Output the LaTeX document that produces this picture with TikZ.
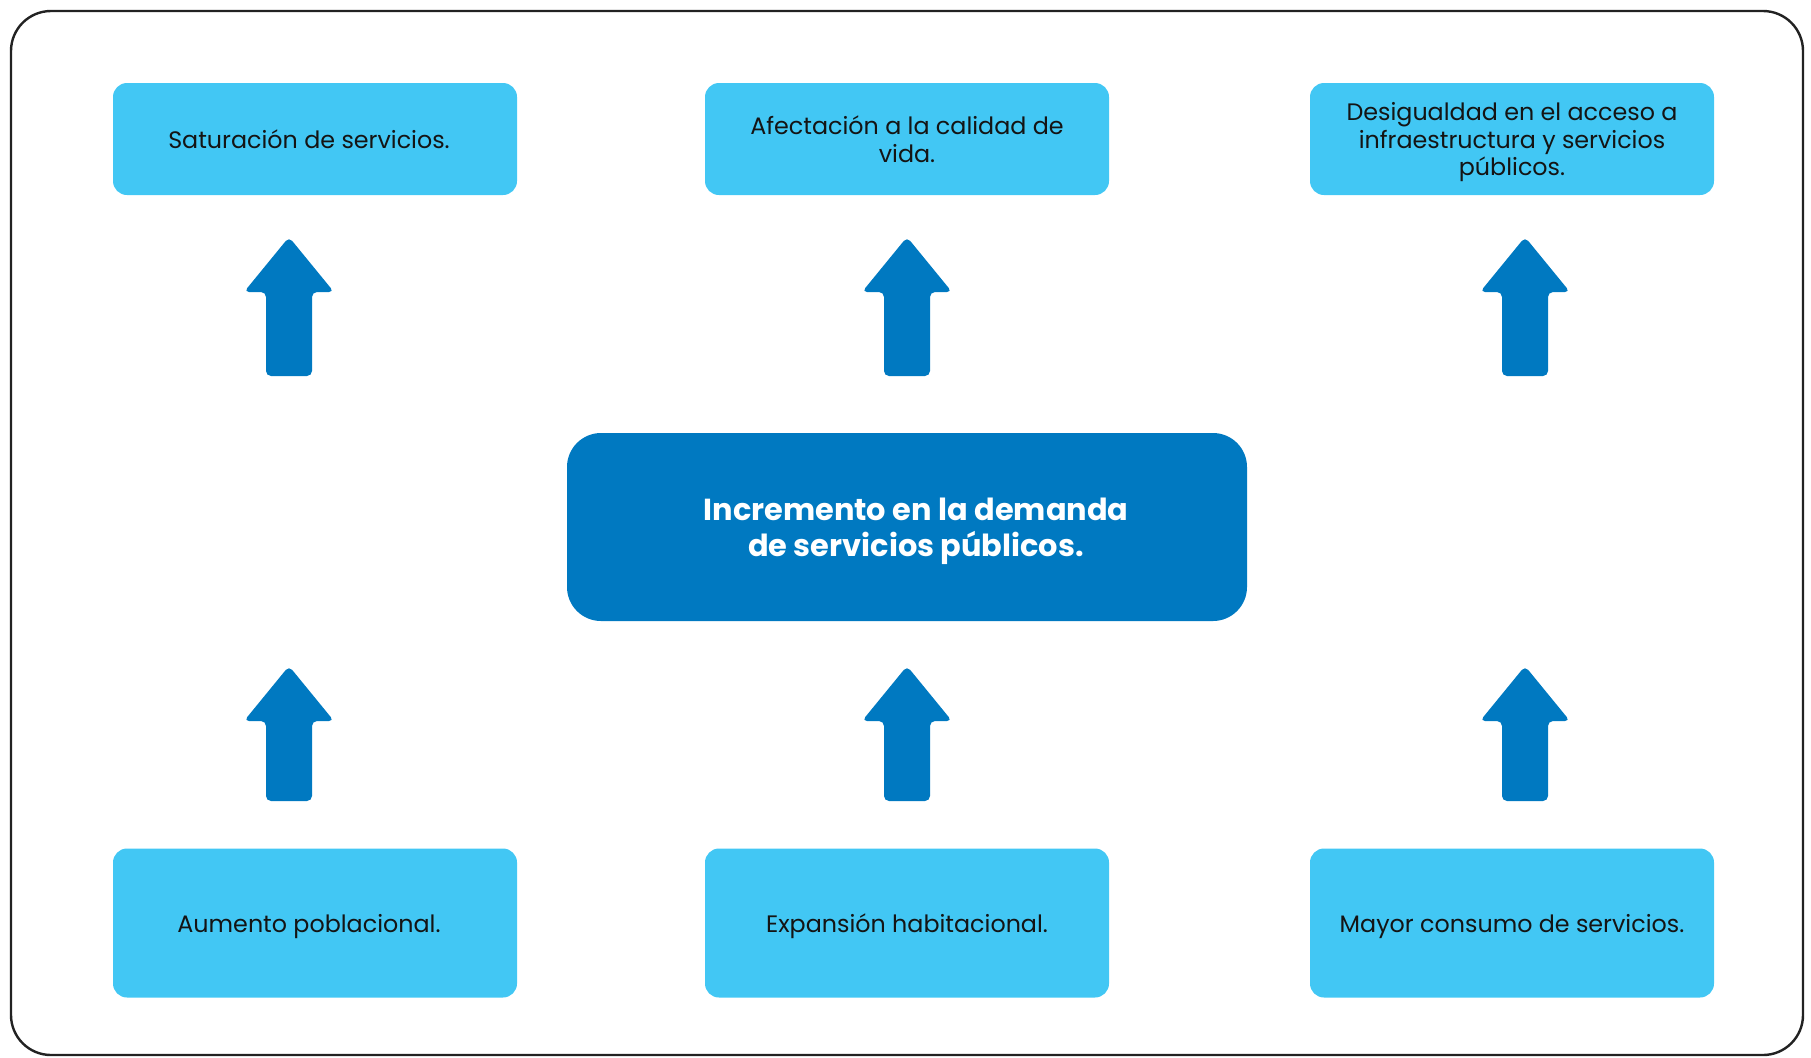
\documentclass[tikz,border=0pt]{standalone}
\usepackage{fontspec}
\setmainfont{Poppins}

\definecolor{skyblue}{HTML}{42C7F4}
\definecolor{deepblue}{HTML}{0079C1}
\definecolor{framegray}{HTML}{222222}

\begin{document}
\begin{tikzpicture}[x=0.5pt,y=-0.5pt,
  smallbox/.style={fill=skyblue, rounded corners=7pt, minimum width=202pt, align=center,
    text=black!92, text depth=0pt, font=\fontsize{11.9}{13.8}\selectfont},
  topbox/.style={smallbox, minimum height=56pt},
  lowbox/.style={smallbox, minimum height=74.5pt},
  mainbox/.style={fill=deepblue, rounded corners=17pt, minimum width=340pt, minimum height=94pt,
    align=center, text=white, text depth=-1.5pt, font=\fontsize{15.2}{18}\selectfont\bfseries}]

  \useasboundingbox (0,0) rectangle (1811,1057);
  \draw [line width=1.2pt, framegray, rounded corners=20pt] (11,11) rectangle (1803,1055);

  \node [topbox] (sat) at (315,139) {Saturación de servicios.\hspace*{6pt}};
  \node [topbox] (afe) at (907,139) {Afectación a la calidad de\\ vida.};
  \node [topbox] (des) at (1512,139) {Desigualdad en el acceso a\\ infraestructura y servicios\\ públicos.};

  \node [mainbox] (inc) at (907,527) {\hspace*{9pt}Incremento en la demanda\\ \hspace*{9pt}de servicios públicos.};

  \node [lowbox] (aum) at (315,923) {Aumento poblacional.\hspace*{6pt}};
  \node [lowbox] (exp) at (907,923) {Expansión habitacional.};
  \node [lowbox] (may) at (1512,923) {Mayor consumo de servicios.};

  \foreach \x/\y/\len in {289/237/84,907/237/84,1525/237/84,289/666/80,907/666/80,1525/666/80}
  {
    \fill [deepblue, rounded corners=2.5pt] (\x,\y) -- ++(45,55) -- ++(-22,0) -- ++(0,\len)
      -- ++(-46,0) -- ++(0,-\len) -- ++(-22,0) -- cycle;
  }
\end{tikzpicture}
\end{document}
